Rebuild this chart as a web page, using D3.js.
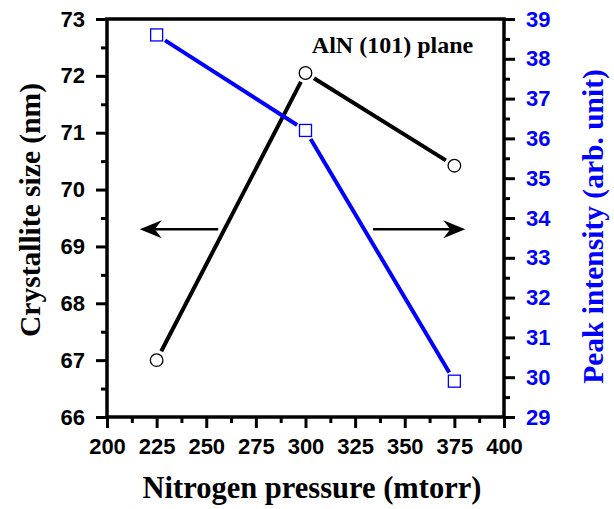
<!DOCTYPE html>
<html>
<head>
<meta charset="utf-8">
<script src="https://cdn.jsdelivr.net/npm/d3@7"></script>
<style>
  body { margin: 0; background: #fff; }
  svg { display: block; }
</style>
</head>
<body>
<svg id="chart"></svg>
<script>
// data
const pressure = [225, 300, 375]
const crystalSize = [67.0, 72.05, 70.42]
const peakIntensity = [38.6, 36.2, 29.9]
const xTicks = [200, 225, 250, 275, 300, 325, 350, 375, 400]
const leftTicks = [66, 67, 68, 69, 70, 71, 72, 73]
const rightTicks = [29, 30, 31, 32, 33, 34, 35, 36, 37, 38, 39]

const width = 614, height = 509
const margin = {top: 19, right: 110, bottom: 92, left: 107}
const innerW = 504 - margin.left
const innerH = 417 - margin.top

const svg = d3.select('#chart').attr('width', width).attr('height', height)
const g = svg.append('g').attr('transform', `translate(${margin.left},${margin.top})`)

const x = d3.scaleLinear().domain([200, 400]).range([0, innerW])
const yL = d3.scaleLinear().domain([66, 73]).range([innerH, 0])
const yR = d3.scaleLinear().domain([29, 39]).range([innerH, 0])

const tickFont = 'Liberation Sans, Arial, sans-serif'
const titleFont = 'Liberation Serif, Times New Roman, serif'
const fmt = d3.format('d')

// minor ticks
const xMinor = d3.range(212.5, 400, 25)
const lMinor = d3.range(66.5, 73, 1)
const rMinor = d3.range(29.5, 39, 1)

function styleAxis(sel, color){
  sel.select('.domain').remove()
  sel.selectAll('.tick line').attr('stroke', 'black').attr('stroke-width', 3)
  sel.selectAll('.tick text')
    .attr('fill', color)
    .attr('font-family', tickFont)
    .attr('font-weight', 'bold')
    .attr('font-size', 22)
}

// bottom
g.append('g').attr('transform', `translate(0,${innerH})`)
  .call(d3.axisBottom(x).tickValues(xMinor).tickSize(6).tickFormat(''))
  .call(s => styleAxis(s, 'black'))
g.append('g').attr('transform', `translate(0,${innerH})`)
  .call(d3.axisBottom(x).tickValues(xTicks).tickSize(11).tickPadding(10).tickFormat(fmt))
  .call(s => styleAxis(s, 'black'))

// left
g.append('g')
  .call(d3.axisLeft(yL).tickValues(lMinor).tickSize(6).tickFormat(''))
  .call(s => styleAxis(s, 'black'))
g.append('g')
  .call(d3.axisLeft(yL).tickValues(leftTicks).tickSize(11).tickPadding(11).tickFormat(fmt))
  .call(s => styleAxis(s, 'black'))

// right
g.append('g').attr('transform', `translate(${innerW},0)`)
  .call(d3.axisRight(yR).tickValues(rMinor).tickSize(6).tickFormat(''))
  .call(s => styleAxis(s, 'black'))
g.append('g').attr('transform', `translate(${innerW},0)`)
  .call(d3.axisRight(yR).tickValues(rightTicks).tickSize(11).tickPadding(11).tickFormat(fmt))
  .call(s => styleAxis(s, '#0000ff'))

// frame
g.append('rect')
  .attr('width', innerW).attr('height', innerH)
  .attr('fill', 'none').attr('stroke', 'black').attr('stroke-width', 3.5)

// lines with gaps at markers
function gappedSegments(xs, ys, yscale, gap){
  const segs = []
  for (let i = 0; i < xs.length - 1; i++){
    const x1 = x(xs[i]), y1 = yscale(ys[i]), x2 = x(xs[i+1]), y2 = yscale(ys[i+1])
    const len = Math.hypot(x2 - x1, y2 - y1)
    const ux = (x2 - x1) / len, uy = (y2 - y1) / len
    segs.push([x1 + ux*gap, y1 + uy*gap, x2 - ux*gap, y2 - uy*gap])
  }
  return segs
}

g.selectAll('.blackline').data(gappedSegments(pressure, crystalSize, yL, 10)).enter()
  .append('line')
  .attr('x1', d => d[0]).attr('y1', d => d[1]).attr('x2', d => d[2]).attr('y2', d => d[3])
  .attr('stroke', 'black').attr('stroke-width', 4)

g.selectAll('.blueline').data(gappedSegments(pressure, peakIntensity, yR, 10)).enter()
  .append('line')
  .attr('x1', d => d[0]).attr('y1', d => d[1]).attr('x2', d => d[2]).attr('y2', d => d[3])
  .attr('stroke', '#0000ff').attr('stroke-width', 4)

g.selectAll('circle').data(pressure).enter()
  .append('circle')
  .attr('cx', d => x(d))
  .attr('cy', (d, i) => yL(crystalSize[i]))
  .attr('r', 6.3)
  .attr('fill', 'white').attr('stroke', 'black').attr('stroke-width', 1.3)

g.selectAll('.sq').data(pressure).enter()
  .append('rect')
  .attr('x', d => x(d) - 6)
  .attr('y', (d, i) => yR(peakIntensity[i]) - 6)
  .attr('width', 12).attr('height', 12)
  .attr('fill', 'white').attr('stroke', '#0000ff').attr('stroke-width', 1.3)

// arrows (in data coords)
const arrowY = 69.3
const arrows = [[256, 216.5], [334, 380.5]]
arrows.forEach(a => {
  const x1 = x(a[0]), x2 = x(a[1]), yy = yL(arrowY)
  const dir = Math.sign(x2 - x1)
  g.append('line').attr('x1', x1).attr('y1', yy).attr('x2', x2 - dir*6).attr('y2', yy)
    .attr('stroke', 'black').attr('stroke-width', 2.5)
  g.append('path')
    .attr('d', `M${x2},${yy} L${x2 - dir*22},${yy - 9} L${x2 - dir*15},${yy} L${x2 - dir*22},${yy + 9} Z`)
    .attr('fill', 'black')
})

// label
svg.append('text')
  .attr('x', 392.5).attr('y', 53)
  .attr('text-anchor', 'middle')
  .attr('font-family', titleFont).attr('font-weight', 'bold').attr('font-size', 24)
  .text('AlN (101) plane')

// axis titles
svg.append('text')
  .attr('x', 312).attr('y', 498)
  .attr('text-anchor', 'middle')
  .attr('font-family', titleFont).attr('font-weight', 'bold').attr('font-size', 30.5)
  .text('Nitrogen pressure (mtorr)')

svg.append('text')
  .attr('transform', `translate(40,210) rotate(-90)`)
  .attr('text-anchor', 'middle')
  .attr('font-family', titleFont).attr('font-weight', 'bold').attr('font-size', 29.5)
  .text('Crystallite size (nm)')

svg.append('text')
  .attr('transform', `translate(603,226.5) rotate(-90)`)
  .attr('text-anchor', 'middle')
  .attr('fill', '#0000ff')
  .attr('font-family', titleFont).attr('font-weight', 'bold').attr('font-size', 29.5)
  .text('Peak intensity (arb. unit)')
</script>
</body>
</html>
